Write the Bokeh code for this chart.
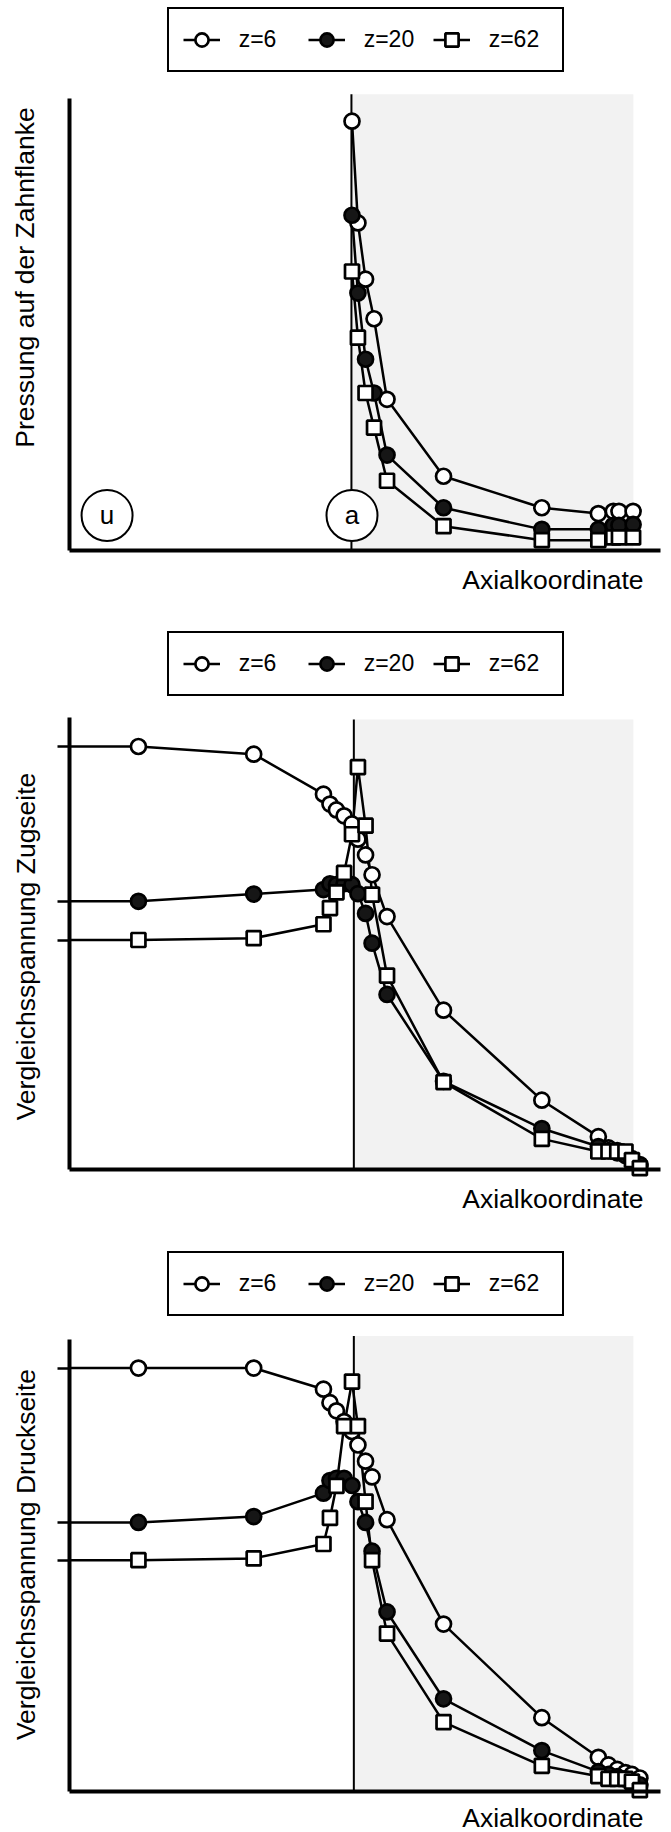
import math
from bokeh.plotting import figure
from bokeh.models import Range1d, FixedTicker, Legend, LegendItem, Label
from bokeh.layouts import column
from bokeh.embed import file_html
from bokeh.resources import INLINE
from bokeh.core.properties import value

FONT = "Liberation Sans"

# ---------------- data (axial coordinate: 0 = boundary a, -100 = shaft start) ----------------
series_labels = ["z=6", "z=20", "z=62"]
x_start = -100.0

# Panel 1: Pressung auf der Zahnflanke
p1_x = [0.0, 2.1, 4.8, 7.8, 12.4, 32.4, 67.2, 87.2, 92.5, 94.5, 99.5]
p1_z6 = [95.4, 72.8, 60.3, 51.5, 33.6, 16.5, 9.5, 8.2, 8.7, 8.7, 8.7]
p1_z20 = [74.5, 57.2, 42.5, 35.0, 21.2, 9.5, 4.7, 4.7, 5.6, 5.6, 5.8]
p1_z62 = [62.0, 47.3, 35.0, 27.3, 15.5, 5.4, 2.3, 2.3, 2.9, 2.9, 2.9]

# Panel 2: Vergleichsspannung Zugseite
p2_x = [-75.6, -34.8, -10.1, -7.8, -5.5, -2.8, 0.0, 2.1, 4.8, 7.1, 12.4, 32.4,
        67.2, 87.2, 90.8, 93.9, 96.8, 99.1, 101.9]
p2_z6 = [94.0, 92.3, 83.4, 81.2, 79.9, 78.6, 76.8, 73.4, 69.9, 65.5, 56.2, 35.4,
         15.4, 7.3, 4.8, 4.2, 3.5, 2.4, 0.8]
p2_z20 = [59.6, 61.2, 62.2, 63.5, 63.3, 63.5, 63.3, 61.3, 56.9, 50.3, 38.9, 19.6,
          9.1, 5.1, 4.2, 3.7, 3.1, 2.0, 1.1]
p2_z62 = [51.0, 51.4, 54.5, 58.1, 61.6, 65.9, 74.5, 89.4, 76.4, 61.1, 43.1, 19.4,
          6.8, 4.0, 4.0, 4.0, 4.0, 2.1, 0.3]

# Panel 3: Vergleichsspannung Druckseite
p3_x = [-75.6, -34.8, -10.1, -7.8, -5.5, -2.8, 0.0, 2.1, 4.8, 7.1, 12.4, 32.4,
        67.2, 87.2, 90.8, 93.9, 96.8, 99.1, 101.9]
p3_z6 = [94.1, 94.1, 89.4, 86.4, 84.6, 82.2, 80.0, 77.0, 73.4, 69.9, 60.4, 37.2,
         16.4, 7.6, 5.9, 4.9, 4.2, 3.8, 3.0]
p3_z20 = [59.8, 61.1, 66.3, 69.1, 69.6, 69.6, 68.0, 64.4, 59.8, 53.4, 39.9, 20.6,
          9.1, 4.4, 3.8, 3.3, 2.8, 2.2, 1.5]
p3_z62 = [51.4, 51.8, 55.0, 60.8, 67.9, 81.2, 91.1, 81.2, 64.4, 51.4, 35.1, 15.4,
          5.7, 3.4, 2.8, 2.8, 2.8, 2.2, 0.3]

# position markers in panel 1
pos_labels = ["u", "a"]
pos_x = [-86.7, 0.0]
pos_y = [7.8, 7.8]

shade_right = 99.6
X_AXIS_END = 109.2
Y_AXIS_END = 100.5

PX_X = 2.825   # px per x unit
PX_Y = 4.5     # px per y unit
AXIS_LEFT_PX = 69   # px from left edge to the y-axis
X_RANGE = (x_start - AXIS_LEFT_PX / PX_X, x_start + (671 - AXIS_LEFT_PX) / PX_X)


def make_panel(height, axis_px, ylabel, ylabel_pos, xlabel_base, legend_y,
               xs, ys_list, boundary, shade_top, has_left, positions=False):
    # axis_px: distance of the x-axis from the top of this figure
    y_range = Range1d(-(height - axis_px) / PX_Y, axis_px / PX_Y)
    p = figure(width=671, height=height, output_backend="svg", toolbar_location=None,
               x_range=Range1d(*X_RANGE), y_range=y_range,
               min_border_left=0, min_border_right=0, min_border_top=0,
               min_border_bottom=0)
    p.min_border = 0
    p.outline_line_color = None
    p.xgrid.visible = False
    p.ygrid.visible = False

    # axes, drawn at the data origin of the plot
    p.xaxis.fixed_location = 0
    p.xaxis.ticker = FixedTicker(ticks=[])
    p.xaxis.major_tick_out = 0
    p.xaxis.major_tick_in = 0
    p.xaxis.major_tick_line_color = None
    p.xaxis.minor_tick_line_color = None
    p.xaxis.axis_line_width = 4
    p.xaxis.axis_line_color = "black"
    p.xaxis.bounds = (x_start, X_AXIS_END)

    ticks = [ys[0] for ys in ys_list] if has_left else []
    p.yaxis.fixed_location = x_start
    p.yaxis.ticker = FixedTicker(ticks=ticks)
    p.yaxis.major_label_overrides = {t: "" for t in ticks}
    p.yaxis.major_tick_out = 12
    p.yaxis.major_tick_in = 0
    p.yaxis.major_tick_line_width = 2.5
    p.yaxis.major_tick_line_color = "black"
    p.yaxis.minor_tick_line_color = None
    p.yaxis.axis_line_width = 4
    p.yaxis.axis_line_color = "black"
    p.yaxis.bounds = (0, Y_AXIS_END)

    # shaded tooth region and boundary line
    p.quad(left=[boundary], right=[shade_right], bottom=[0], top=[shade_top],
           fill_color="#f2f2f2", line_color=None)
    p.segment(x0=[boundary], y0=[0], x1=[boundary], y1=[shade_top],
              line_color="black", line_width=2)

    styles = [dict(marker="circle", size=15, fill_color="white"),
              dict(marker="circle", size=15, fill_color="#161616"),
              dict(marker="square", size=14, fill_color="white")]

    lines = []
    for ys in ys_list:
        if has_left:
            lx = [x_start] + list(xs)
            ly = [ys[0]] + list(ys)
        else:
            lx, ly = list(xs), list(ys)
        lines.append(p.line(lx, ly, line_color="black", line_width=2.5))
    marks = []
    for ys, st in zip(ys_list, styles):
        marks.append(p.scatter(xs, ys, line_color="black", line_width=2.7, **st))

    if positions:
        p.scatter(pos_x, pos_y, marker="circle", size=51, fill_color="white",
                  line_color="black", line_width=2)
        p.text(pos_x, pos_y, text=pos_labels, text_align="center", text_baseline="middle",
               text_font=value(FONT), text_font_size="26px", text_color="black")

    items = [LegendItem(label=lab, renderers=[l, m])
             for lab, l, m in zip(series_labels, lines, marks)]
    legend = Legend(items=items, location=(166.7, legend_y), orientation="horizontal",
                    glyph_width=37, glyph_height=33, label_standoff=19, label_width=59,
                    spacing=10, padding=14, margin=0,
                    border_line_color="black", border_line_width=2.5, border_line_alpha=1.0,
                    background_fill_color="white", background_fill_alpha=1.0,
                    label_text_font=FONT, label_text_font_size="23px",
                    label_text_color="black")
    p.add_layout(legend, "center")

    p.add_layout(Label(x=ylabel_pos[0], y=ylabel_pos[1], x_units="screen", y_units="screen",
                       text=ylabel, angle=math.pi / 2, text_align="center",
                       text_baseline="middle", text_font=FONT,
                       text_font_size="26.5px", text_color="black"))
    p.add_layout(Label(x=643, y=xlabel_base, x_units="screen", y_units="screen",
                       text="Axialkoordinate", text_align="right",
                       text_baseline="alphabetic", text_font=FONT,
                       text_font_size="26.5px", text_color="black"))
    return p


p1 = make_panel(619, 550, "Pressung auf der Zahnflanke", (24, 342), 39.7, 547.3, p1_x,
                [p1_z6, p1_z20, p1_z62], -0.2, 101.4, False, positions=True)
p2 = make_panel(622, 550, "Vergleichsspannung Zugseite", (25.5, 295), 42.8, 545.1, p2_x,
                [p2_z6, p2_z20, p2_z62], 0.65, 100.0, True)
p3 = make_panel(591, 550, "Vergleichsspannung Druckseite", (25.5, 278), 15, 516.5, p3_x,
                [p3_z6, p3_z20, p3_z62], 0.65, 101.2, True)

layout = column(p1, p2, p3)
open("out.html", "w").write(file_html(layout, INLINE))
